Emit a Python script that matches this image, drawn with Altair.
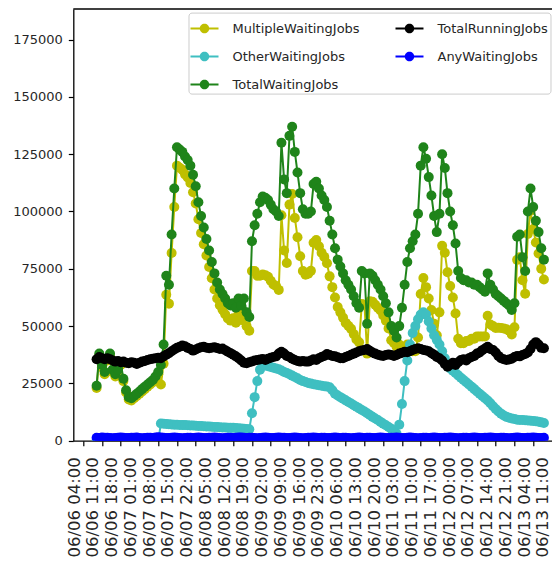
import altair as alt
import pandas as pd

# ---------------- data (values in thousands of jobs) ----------------
SERIES = ["MultipleWaitingJobs", "OtherWaitingJobs", "TotalWaitingJobs",
          "TotalRunningJobs", "AnyWaitingJobs"]
SERIES_COLORS = {
    "MultipleWaitingJobs": "#bfbf00",
    "OtherWaitingJobs": "#3fbfc1",
    "TotalWaitingJobs": "#1f841a",
    "TotalRunningJobs": "#000000",
    "AnyWaitingJobs": "#0000ff",
}

START = "2018-06-06 09:00"   # hourly samples
N_POINTS = 168

multiple_k = [
    23, 37, 32, 29, 35, 37, 30, 28, 30, 33, 26, 21,
    18, 17.5, 18.5, 19.5, 20.5, 21.5, 22.5, 23.5, 24.5, 25.5, 27, 29,
    24.5, 33.6, 63.7, 59.8, 81.9, 102, 120, 119.1, 118.2, 116.2, 114.8, 112.4,
    108.4, 103.5, 96.6, 90.6, 85.7, 80.8, 75.8, 70.9, 66, 62, 59.1, 57.2,
    55.2, 53.3, 52.4, 53.4, 51.5, 55.6, 52.7, 55.8, 49.9, 48, 74, 74,
    72, 72, 72.5, 72.2, 71.5, 69.8, 68.2, 67.5, 65.8, 98.4, 83, 77.5,
    103, 107.6, 97.2, 88.8, 80.5, 74, 72.4, 72.8, 74.1, 86.4, 87.6, 84.8,
    82, 80.2, 77.4, 71.7, 67, 62.5, 58.3, 56, 53.7, 51.4, 50.1, 48.8,
    46.5, 44.2, 42.9, 59.6, 59.3, 38, 60.8, 60.6, 59.3, 58, 56.8, 54.6,
    52.3, 49, 43.8, 42.6, 41, 42, 41, 41, 42, 41, 39, 39,
    45, 64, 71, 67, 62, 57, 51, 46, 56, 85, 82, 73.5,
    67.5, 62.5, 55.5, 44.5, 42.5, 42.5, 43.5, 43.5, 44.5, 44.5, 45.5, 45.5,
    45.5, 45.5, 54.5, 50.7, 50, 49.2, 49.3, 49.2, 49, 48.6, 48, 46.3,
    49.5, 78.9, 80, 70, 64.1, 90.2, 100.3, 92.4, 86.5, 81.7, 75, 70.3,
]

other_k = [
    0, 0, 0, 0, 0, 0, 0, 0, 0, 0, 0, 0,
    0, 0, 0, 0, 0, 0, 0, 0, 0, 0, 0, 0,
    7.5, 7.4, 7.3, 7.2, 7.1, 7.0, 7.0, 6.9, 6.8, 6.8, 6.7, 6.6,
    6.6, 6.5, 6.4, 6.4, 6.3, 6.2, 6.2, 6.1, 6.0, 6.0, 5.9, 5.8,
    5.8, 5.7, 5.6, 5.6, 5.5, 5.4, 5.3, 5.2, 5.1, 5.0, 12, 19,
    26, 31, 33, 32.8, 32.5, 32.2, 31.8, 31.5, 31.2, 30.6, 30, 29.5,
    29, 28.4, 27.8, 27.2, 26.5, 26, 25.6, 25.2, 24.9, 24.6, 24.4, 24.2,
    24, 23.8, 23.6, 23.3, 22, 20.5, 19.7, 19, 18.3, 17.6, 16.9, 16.2,
    15.5, 14.8, 14.1, 13.4, 12.7, 12, 11.2, 10.4, 9.7, 9, 8.2, 7.4,
    6.7, 6, 5.2, 4.4, 3, 7, 16, 26, 35, 42, 47, 50,
    53, 55, 56, 55, 52, 49, 46, 44, 42, 39, 36, 33.5,
    31.5, 30.5, 29.5, 28.5, 27.5, 26.5, 25.5, 24.5, 23.5, 22.5, 21.5, 20.5,
    19.5, 18.5, 17.5, 16.3, 15, 13.8, 12.7, 11.8, 11, 10.4, 10, 9.7,
    9.5, 9.1, 9, 9, 8.9, 8.8, 8.7, 8.6, 8.5, 8.3, 8, 7.7,
]

total_waiting_k = [
    24, 38, 33, 30, 36, 38, 31, 29, 31, 34, 27, 22,
    19, 18.5, 19.5, 20.5, 21.5, 22.5, 23.5, 24.5, 25.5, 26.5, 28, 30,
    33, 42, 72, 68, 90, 110, 128, 127, 126, 124, 122.5, 120,
    116, 111, 104, 98, 93, 88, 83, 78, 73, 69, 66, 64,
    62, 60, 59, 60, 58, 62, 59, 62, 56, 54, 87, 94,
    99, 104, 106.5, 106, 105, 103, 101, 100, 98, 130, 114, 108,
    133, 137, 126, 117, 108, 101, 99, 99, 100, 112, 113, 110,
    107, 105, 102, 96, 90, 84, 79, 76, 73, 70, 68, 66,
    63, 60, 58, 74, 73, 51, 73, 72, 70, 68, 66, 63,
    60, 56, 50, 48, 45, 50, 58, 68, 78, 84, 87, 90,
    99, 120, 128, 123, 115, 107, 98, 91, 99, 125, 119, 108,
    100, 94, 86, 74, 71, 70, 70, 69, 69, 68, 68, 67,
    66, 65, 73, 68, 66, 64, 63, 62, 61, 60, 59, 57,
    60, 89, 90, 80, 74, 100, 110, 102, 96, 91, 84, 79,
]

total_running_k = [
    35.5, 36.5, 36, 35.5, 36, 35.5, 35, 34.5, 34.8, 34.2, 34.5, 34,
    33.8, 34.2, 34, 33.5, 34, 34.5, 34.8, 35.2, 35.5, 35.8, 36, 36.2,
    36, 36.8, 37.5, 38.2, 39, 39.8, 40.5, 41, 41.5, 41.2, 40.5, 40,
    39.3, 39.8, 40.3, 40.8, 41, 40.6, 40.3, 40.6, 40.8, 40.4, 40, 40.2,
    39.5, 38.8, 38.2, 37.5, 36.8, 36, 35, 34, 33.8, 34.2, 34.6, 35,
    35.2, 35.4, 35.6, 35.2, 35.8, 36.2, 36.5, 36.8, 38, 38.8, 38, 37,
    36.5, 35.8, 35.2, 34.8, 34.5, 34.8, 34.5, 34.5, 35, 35.5, 35.2, 36,
    36.5, 37, 37.8, 37.4, 37, 36.8, 36.4, 36, 36, 36.5, 37, 37.5,
    38, 38.5, 39, 39.4, 39.6, 40, 39.2, 38.5, 38, 37.5, 37.2, 37,
    37.4, 37.6, 37.4, 37, 37.4, 38, 38.4, 38.8, 38.6, 39, 39.6, 40,
    40.3, 40, 39.6, 39.4, 39, 38.2, 37.5, 36.5, 36, 35, 33.5, 32.3,
    33, 34, 33, 34.2, 35.2, 35.5, 35, 36, 36.5, 37, 38, 38.5,
    39.5, 40.2, 41, 40, 39.6, 38.5, 37, 36, 35.5, 35.2, 35.4, 35.8,
    36.5, 37, 36.8, 37.4, 37.8, 38.5, 40, 42, 43, 42, 40.5, 40.3,
]

any_waiting_k = [
    1.3, 1.2, 1.4, 1.3, 1.3, 1.2, 1.1, 1.2, 1.3, 1.4, 1.3, 1.2,
    1.2, 1.3, 1.3, 1.4, 1.2, 1.1, 1.2, 1.3, 1.3, 1.2, 1.4, 1.5,
    1.4, 1.3, 1.2, 1.2, 1.3, 1.4, 1.3, 1.2, 1.1, 1.2, 1.3, 1.3,
    1.2, 1.3, 1.4, 1.3, 1.2, 1.2, 1.3, 1.3, 1.4, 1.3, 1.2, 1.1,
    1.2, 1.3, 1.3, 1.2, 1.3, 1.4, 1.4, 1.3, 1.2, 1.3, 1.3, 1.2,
    1.1, 1.2, 1.3, 1.4, 1.3, 1.2, 1.2, 1.3, 1.4, 1.3, 1.3, 1.2,
    1.2, 1.3, 1.4, 1.3, 1.2, 1.1, 1.2, 1.3, 1.3, 1.4, 1.3, 1.2,
    1.3, 1.3, 1.2, 1.2, 1.3, 1.4, 1.3, 1.2, 1.3, 1.3, 1.2, 1.1,
    1.2, 1.3, 1.4, 1.3, 1.2, 1.3, 1.3, 1.2, 1.2, 1.3, 1.4, 1.3,
    1.2, 1.2, 1.3, 1.3, 1.4, 1.3, 1.2, 1.2, 1.3, 1.4, 1.3, 1.2,
    1.1, 1.2, 1.3, 1.3, 1.2, 1.3, 1.4, 1.3, 1.2, 1.2, 1.3, 1.3,
    1.4, 1.3, 1.2, 1.1, 1.2, 1.3, 1.3, 1.2, 1.3, 1.4, 1.3, 1.2,
    1.2, 1.3, 1.3, 1.4, 1.3, 1.2, 1.2, 1.3, 1.3, 1.2, 1.1, 1.2,
    1.3, 1.4, 1.3, 1.2, 1.2, 1.3, 1.3, 1.4, 1.3, 1.2, 1.2, 1.3,
]

TICK_LABELS = [
    "06/06 04:00", "06/06 11:00", "06/06 18:00", "06/07 01:00", "06/07 08:00",
    "06/07 15:00", "06/07 22:00", "06/08 05:00", "06/08 12:00", "06/08 19:00",
    "06/09 02:00", "06/09 09:00", "06/09 16:00", "06/09 23:00", "06/10 06:00",
    "06/10 13:00", "06/10 20:00", "06/11 03:00", "06/11 10:00", "06/11 17:00",
    "06/12 00:00", "06/12 07:00", "06/12 14:00", "06/12 21:00", "06/13 04:00",
    "06/13 11:00",
]
Y_TICKS = [0, 25000, 50000, 75000, 100000, 125000, 150000, 175000]
Y_MAX = 188350

# ---------------- build table ----------------
times = pd.date_range(START, periods=N_POINTS, freq="h").strftime("%Y-%m-%dT%H:%M:%S")
values_by_series = {
    "MultipleWaitingJobs": multiple_k,
    "OtherWaitingJobs": other_k,
    "TotalWaitingJobs": total_waiting_k,
    "TotalRunningJobs": total_running_k,
    "AnyWaitingJobs": any_waiting_k,
}
rows = []
for s in SERIES:
    for t, v in zip(times, values_by_series[s]):
        rows.append({"time": t, "series": s, "value": v * 1000})
df = pd.DataFrame(rows)

# ---------------- layout ----------------
PAD_LEFT = 65.3
W = 478.7          # plot runs to the right edge of the page (cropped, like the original)
H = 431.7
FONT = "DejaVu Sans"

tick_values = [
    alt.DateTime(year=2018, month=int(l[0:2]), date=int(l[3:5]), hours=int(l[6:8]))
    for l in TICK_LABELS
]

x_enc = alt.X(
    "time:T",
    scale=alt.Scale(domain=[
        alt.DateTime(year=2018, month=6, date=6, hours=0, minutes=17, seconds=46),
        alt.DateTime(year=2018, month=6, date=13, hours=11, minutes=1, seconds=0),
    ]),
    axis=alt.Axis(
        values=tick_values, format="%m/%d %H:%M", labelAngle=270,
        labelFont=FONT, labelFontSize=16.5, labelColor="#262626",
        labelPadding=11, labelOffset=-9, labelOverlap=False, labelFlush=False,
        tickSize=5, tickColor="black", tickWidth=1.2,
        domainColor="black", domainWidth=1.3, grid=False, title=None,
    ),
)
y_enc = alt.Y(
    "value:Q",
    scale=alt.Scale(domain=[0, Y_MAX], nice=False, zero=True),
    axis=alt.Axis(
        values=Y_TICKS, format="d", labelFont=FONT, labelFontSize=13,
        labelColor="#262626", labelPadding=6, tickSize=5, tickColor="black",
        tickWidth=1.2, domainColor="black", domainWidth=1.3, grid=False,
        title=None,
    ),
)

LEGEND_SYMBOL = ("M-1,-0.07H1V0.07H-1Z"
                 "M0.34,0A0.34,0.34,0,1,1,-0.34,0A0.34,0.34,0,1,1,0.34,0Z")
legend = alt.Legend(
    title=None, orient="none", legendX=115.2, legendY=3.6, columns=2,
    columnPadding=35, rowPadding=7, padding=2,
    fillColor="#ffffff", strokeColor="#cccccc", cornerRadius=3,
    symbolType=LEGEND_SYMBOL, symbolSize=784, symbolStrokeWidth=0,
    symbolOpacity=1, labelFont=FONT, labelFontSize=13, labelColor="#262626",
    labelOffset=14, labelLimit=400,
)
color_enc = alt.Color(
    "series:N",
    scale=alt.Scale(domain=SERIES, range=[SERIES_COLORS[s] for s in SERIES]),
    legend=legend,
)

base = alt.Chart(df)
layers = []
for s in SERIES:
    sub = base.transform_filter(alt.datum.series == s)
    layers.append(
        sub.mark_line(color=SERIES_COLORS[s], strokeWidth=2, clip=True)
        .encode(x=x_enc, y=y_enc)
    )
    layers.append(
        sub.mark_point(filled=True, opacity=1, size=100, clip=True)
        .encode(x=x_enc, y=y_enc, color=color_enc)
    )

top_spine = alt.Chart(pd.DataFrame({"v": [0]})).mark_rule(
    color="black", strokeWidth=1.3
).encode(x=alt.value(0), x2=alt.value(W), y=alt.value(0))
layers.append(top_spine)

chart = alt.layer(*layers).properties(
    width=W, height=H,
    padding={"left": PAD_LEFT, "top": 1, "right": 0, "bottom": 117},
    autosize=alt.AutoSizeParams(type="none"),
    background="white",
).configure_view(strokeWidth=0).configure_legend(strokeWidth=1)

chart.save("out.html", embed_options={"renderer": "svg", "actions": False})
